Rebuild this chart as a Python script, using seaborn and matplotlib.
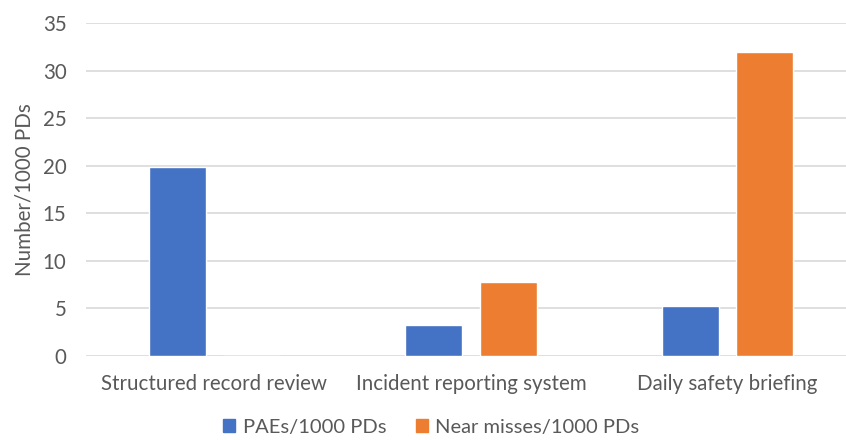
import matplotlib
matplotlib.use("Agg")
import matplotlib.pyplot as plt
import seaborn as sns
import pandas as pd

categories = ["Structured record review", "Incident reporting system", "Daily safety briefing"]
series_names = ["PAEs/1000 PDs", "Near misses/1000 PDs"]
paes = [19.9, 3.3, 5.3]
near_misses = [0.0, 7.8, 32.0]
y_ticks = [0, 5, 10, 15, 20, 25, 30, 35]

colors = ["#4472C4", "#ED7D31"]
text_color = "#595959"

sns.set_theme(style="white")
plt.rcParams["font.family"] = ["Lato", "DejaVu Sans"]

df = pd.DataFrame({
    "category": categories * 2,
    "series": [series_names[0]] * 3 + [series_names[1]] * 3,
    "value": paes + near_misses,
})

fig = plt.figure(figsize=(8.46, 4.40), dpi=100)
ax = fig.add_axes([86 / 846, 84 / 440, 770 / 846, 332.7 / 440])

sns.barplot(data=df, x="category", y="value", hue="series", order=categories,
            hue_order=series_names, palette=colors, width=0.577, gap=0.23,
            saturation=1, errorbar=None, ax=ax, zorder=3)

ax.set_ylim(0, 35)
ax.set_xlim(-0.5, 2.5)
ax.set_yticks(y_ticks)
ax.yaxis.grid(True, color="#d9d9d9", linewidth=1.2, zorder=0)
ax.set_axisbelow(True)
for s in ax.spines.values():
    s.set_visible(False)
ax.tick_params(axis="both", length=0, labelsize=14.8, colors=text_color)
ax.tick_params(axis="x", pad=13)
ax.tick_params(axis="y", pad=14)
ax.set_xlabel("")
ax.set_ylabel("Number/1000 PDs", fontsize=14.8, color=text_color, labelpad=6)

ax.legend_.remove()
handles = [plt.Rectangle((0, 0), 1, 1, color=c) for c in colors]
fig.legend(handles, series_names, loc="lower center", bbox_to_anchor=(0.51, -0.032),
           ncol=2, frameon=False, fontsize=14.5, labelcolor=text_color,
           handlelength=0.6, handleheight=0.6, handletextpad=0.35, columnspacing=1.5)

fig.savefig("out.png", dpi=100)
